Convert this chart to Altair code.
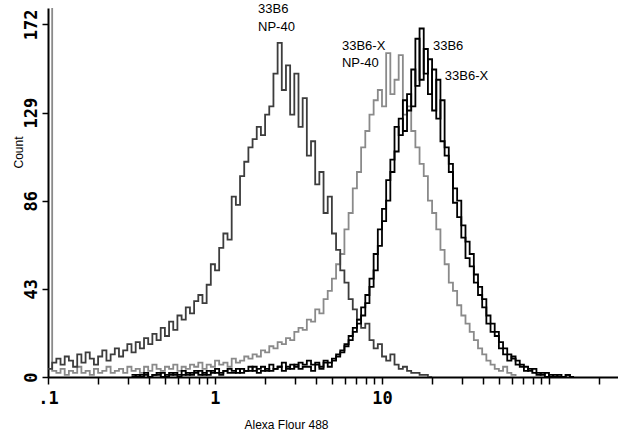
import altair as alt
import pandas as pd

# Log-scale channel grid: 40 channels per decade starting at 0.1
BINS_PER_DECADE = 40
X_MIN = 0.1
X_MAX = 259
Y_MAX = 180

# Histogram counts per channel (series start channel, then counts)
np40_33b6_start = 0
np40_33b6 = [
    4, 7, 9, 6, 10, 8, 5, 11, 7, 12, 9, 6, 10, 13, 8, 11, 14, 10, 13, 16,
    12, 17, 14, 19, 16, 21, 18, 24, 20, 27, 23, 30, 28, 34, 31, 37, 40, 36, 45, 55,
    52, 63, 70, 67, 88, 84, 98, 105, 112, 116, 122, 118, 128, 132, 148, 163, 140, 152, 128, 148,
    122, 136, 108, 115, 94, 100, 80, 88, 70, 62, 52, 46, 38, 33, 28, 24, 26, 18, 14, 16,
    10, 8, 11, 6, 4, 5, 3, 2, 2, 1, 1, 0,
]

np40_33b6x_start = 0
np40_33b6x = [
    600, 3, 2, 4, 1, 3, 2, 5, 2, 3, 1, 4, 2, 3, 5, 2, 3, 4, 2, 5,
    3, 4, 2, 5, 3, 6, 4, 3, 5, 4, 6, 3, 5, 4, 6, 5, 7, 4, 6, 5,
    8, 6, 7, 5, 9, 7, 8, 10, 9, 11, 10, 13, 12, 15, 14, 17, 16, 19, 18, 22,
    24, 23, 28, 27, 33, 31, 38, 42, 48, 55, 60, 72, 80, 92, 100, 112, 120, 128, 135, 140,
    132, 158, 138, 145, 157, 128, 132, 120, 112, 104, 98, 86, 80, 72, 62, 55, 46, 42, 35, 30,
    26, 22, 18, 14, 11, 8, 6, 4, 3, 5, 2, 1, 0,
]

b33b6_start = 20
b33b6 = [
    0, 1, 0, 1, 0, 1, 2, 0, 1, 1, 2, 0, 1, 2, 1, 3, 1, 2, 1, 3,
    2, 1, 3, 2, 2, 4, 2, 3, 3, 5, 2, 3, 4, 3, 4, 5, 3, 5, 4, 6,
    4, 5, 5, 3, 6, 4, 7, 5, 8, 10, 13, 16, 20, 24, 28, 34, 40, 48, 60, 72,
    82, 96, 106, 122, 118, 135, 130, 150, 142, 170, 148, 155, 130, 145, 115, 108, 100, 85, 78, 68,
    58, 54, 46, 40, 34, 26, 22, 20, 14, 11, 8, 10, 6, 5, 3, 4, 2, 1, 2, 0,
    1, 0, 1, 0, 1, 0,
]

b33b6x_start = 20
b33b6x = [
    1, 0, 1, 2, 0, 1, 1, 2, 0, 2, 1, 1, 3, 1, 2, 2, 3, 1, 3, 2,
    4, 2, 3, 4, 3, 2, 4, 3, 5, 3, 4, 5, 3, 6, 4, 5, 7, 4, 6, 5,
    7, 6, 8, 6, 7, 5, 8, 7, 9, 11, 12, 15, 18, 22, 26, 30, 36, 44, 52, 64,
    76, 86, 100, 110, 126, 120, 138, 132, 165, 145, 160, 138, 150, 126, 135, 112, 104, 92, 86, 74,
    66, 60, 50, 44, 38, 30, 26, 22, 17, 14, 11, 9, 8, 6, 5, 3, 4, 2, 1, 2,
    0, 1, 0, 0, 1, 0,
]

series_names = ["33B6-X NP-40", "33B6 NP-40", "33B6", "33B6-X"]
series_colors = ["#8a8a8a", "#3d3d3d", "#000000", "#000000"]

# Peak labels: text lines, x in axis units, y in counts
label_text = ["33B6", "NP-40", "33B6-X", "NP-40", "33B6", "33B6-X"]
label_x = [1.81, 1.81, 5.76, 5.76, 20.2, 23.8]
label_y = [179.3, 170.6, 161.3, 153.0, 161.3, 146.7]

# Axis ticks: every integer multiple within each decade
x_ticks = [round(d * m, 6) for d in (0.1, 1, 10, 100) for m in range(1, 10)]
x_ticks = [t for t in x_ticks if t <= X_MAX]
y_ticks = [0, 43, 86, 129, 172]


def channel(i):
    return X_MIN * 10 ** (i / BINS_PER_DECADE)


rows = []
for name, start, vals in [
    ("33B6-X NP-40", np40_33b6x_start, np40_33b6x),
    ("33B6 NP-40", np40_33b6_start, np40_33b6),
    ("33B6", b33b6_start, b33b6),
    ("33B6-X", b33b6x_start, b33b6x),
]:
    for k, v in enumerate(vals):
        rows.append({"series": name, "x": channel(start + k), "count": v})
    rows.append({"series": name, "x": channel(start + len(vals)), "count": vals[-1]})
hist = pd.DataFrame(rows)

labels = pd.DataFrame({"text": label_text, "x": label_x, "y": label_y})

x_scale = alt.Scale(type="log", domain=[X_MIN, X_MAX], nice=False)
y_scale = alt.Scale(domain=[0, Y_MAX], nice=False)

lines = alt.Chart(hist).mark_line(
    interpolate="step-after", strokeWidth=1.8, clip=True
).encode(
    x=alt.X(
        "x:Q",
        scale=x_scale,
        axis=alt.Axis(
            title="Alexa Flour 488",
            values=x_ticks,
            labelExpr="datum.value == 0.1 ? '.1' : datum.value == 1 ? '1' : datum.value == 10 ? '10' : ''",
            labelOverlap=False,
            labelFlush=False,
            labelFont="DejaVu Sans Mono",
            labelFontWeight="bold",
            labelFontSize=17,
            labelColor="#000000",
            labelPadding=6,
            tickSize=7,
            tickWidth=1.5,
            tickColor="#000000",
            domainColor="#000000",
            domainWidth=2,
            grid=False,
            titleFont="Liberation Sans",
            titleFontSize=12,
            titleFontWeight="normal",
            titleColor="#000000",
            titleX=238,
            titleY=47,
            titleBaseline="middle",
        ),
    ),
    y=alt.Y(
        "count:Q",
        scale=y_scale,
        axis=alt.Axis(
            title="Count",
            values=y_ticks,
            labelAngle=270,
            labelAlign="center",
            labelBaseline="bottom",
            labelFont="DejaVu Sans Mono",
            labelFontWeight="bold",
            labelFontSize=17,
            labelColor="#000000",
            labelPadding=2,
            tickSize=6,
            tickWidth=1.5,
            tickColor="#000000",
            domainColor="#000000",
            domainWidth=2,
            grid=False,
            titleFont="Liberation Sans",
            titleFontSize=12,
            titleFontWeight="normal",
            titleColor="#000000",
            titleAngle=270,
            titleX=-30,
            titleY=144,
            titleAlign="center",
            titleBaseline="middle",
        ),
    ),
    color=alt.Color(
        "series:N",
        scale=alt.Scale(domain=series_names, range=series_colors),
        legend=None,
    ),
    detail="series:N",
)

text = alt.Chart(labels).mark_text(
    align="left", baseline="middle", font="Liberation Sans", fontSize=13, color="#000000"
).encode(
    x=alt.X("x:Q", scale=x_scale),
    y=alt.Y("y:Q", scale=y_scale),
    text="text:N",
)

chart = (
    alt.layer(lines, text)
    .properties(
        width=570,
        height=369,
        autosize=alt.AutoSizeParams(type="none"),
        padding={"left": 48, "top": 8, "right": 0, "bottom": 60},
        background="#ffffff",
    )
    .configure_view(stroke=None)
)

chart.save("out.html", embed_options={"renderer": "svg", "actions": False})
